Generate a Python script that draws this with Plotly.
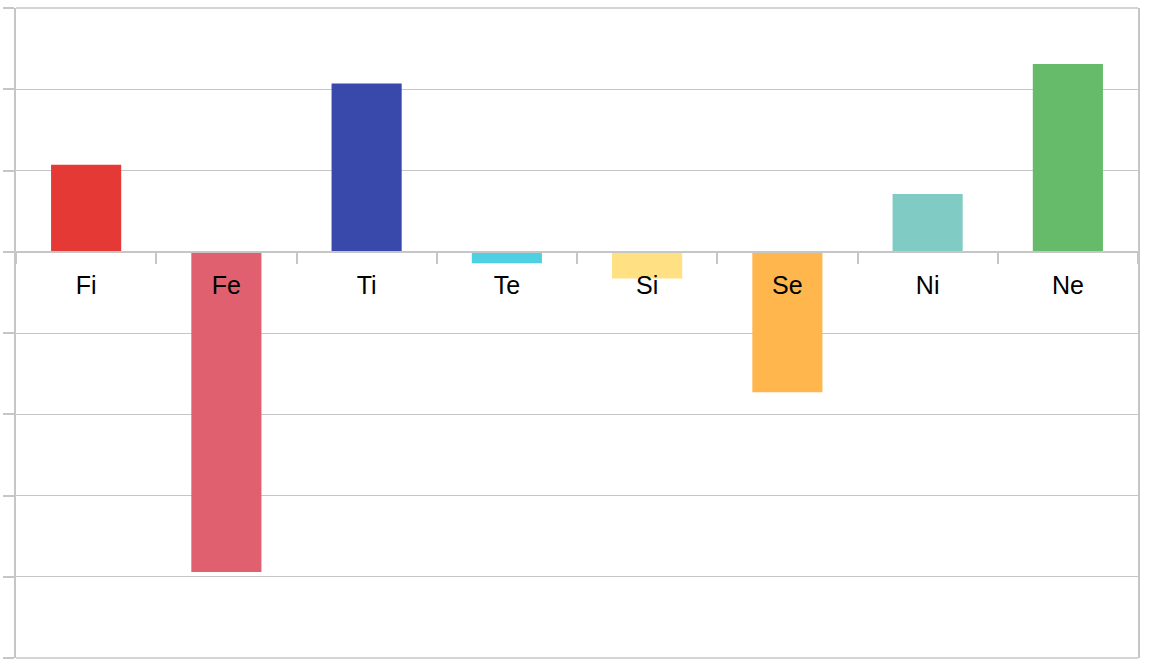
import plotly.graph_objects as go

categories = ["Fi", "Fe", "Ti", "Te", "Si", "Se", "Ni", "Ne"]
values = [1.07, -3.94, 2.07, -0.14, -0.33, -1.73, 0.71, 2.31]
colors = ["#E53935", "#E16070", "#3949AB", "#4DD0E1", "#FFE082", "#FFB74D", "#80CBC4", "#66BB6A"]

fig = go.Figure(go.Bar(x=categories, y=values, marker=dict(color=colors, line=dict(width=0)), width=0.5))

grid = "#c6c6c6"
fig.update_layout(
    width=1159, height=672,
    margin=dict(l=16, r=21, t=8, b=14, autoexpand=False),
    paper_bgcolor="white", plot_bgcolor="white",
    showlegend=False,
    font=dict(family="Liberation Sans, Arial, sans-serif", color="black"),
    xaxis=dict(
        anchor="free", position=0.625, automargin=False,
        showline=True, linecolor=grid, linewidth=1.5,
        ticks="outside", tickson="boundaries", ticklen=11, tickcolor=grid, tickwidth=1.5,
        showgrid=False,
        tickfont=dict(size=25, color="black"),
        ticklabelstandoff=11,
        range=[-0.5, 7.5],
    ),
    yaxis=dict(
        range=[-5, 3], dtick=1, tick0=0, automargin=False,
        showticklabels=False,
        showline=True, mirror=True, linecolor=grid, linewidth=1.5,
        ticks="outside", ticklen=11, tickcolor=grid, tickwidth=1.5,
        showgrid=True, gridcolor=grid, gridwidth=1,
        zeroline=True, zerolinecolor=grid, zerolinewidth=1.5,
    ),
    shapes=[
        dict(type="line", xref="paper", yref="paper", x0=0, x1=1, y0=1, y1=1,
             line=dict(color=grid, width=1.5)),
        dict(type="line", xref="paper", yref="paper", x0=0, x1=1, y0=0, y1=0,
             line=dict(color=grid, width=1.5)),
    ],
)

fig.write_html("out.html")
